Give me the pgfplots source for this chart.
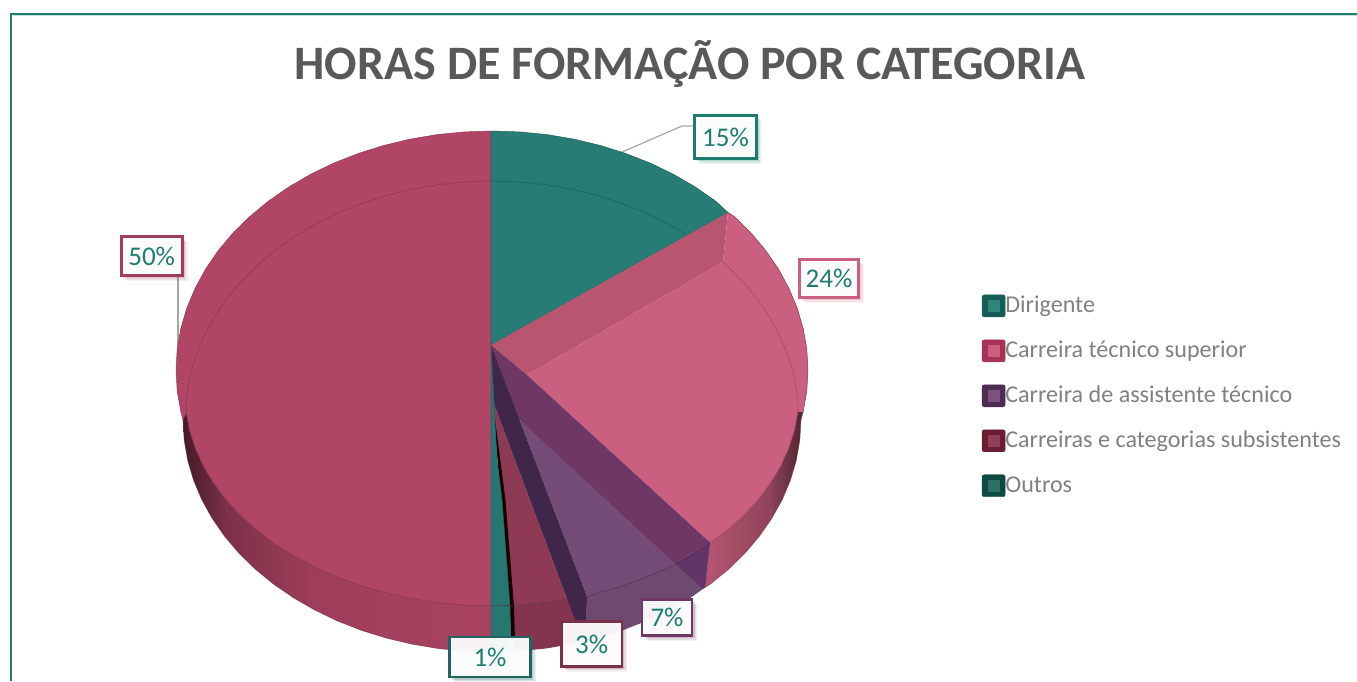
\documentclass[border=0pt]{standalone}
\usepackage{fontspec}
\setmainfont{Carlito}
\usepackage{pgfplots}
\pgfplotsset{compat=1.18}
\usetikzlibrary{shadows}
\definecolor{teal1}{HTML}{277D75}
\definecolor{red1}{HTML}{B04565}
\definecolor{pink1}{HTML}{CB5F7F}
\definecolor{pinkw}{HTML}{B85570}
\definecolor{purp1}{HTML}{754B78}
\definecolor{purpw}{HTML}{6F3766}
\definecolor{purps}{HTML}{6E4A70}
\definecolor{purpd}{HTML}{633468}
\definecolor{strip}{HTML}{40264A}
\definecolor{burg1}{HTML}{8F3A55}
\definecolor{burgs}{HTML}{85344F}
\definecolor{labeltxt}{HTML}{1C7D72}
\definecolor{frame1}{HTML}{1F7A6F}
\definecolor{s1a}{HTML}{155E57}\definecolor{s1b}{HTML}{2F8577}
\definecolor{s2a}{HTML}{A83257}\definecolor{s2b}{HTML}{CC5F80}
\definecolor{s3a}{HTML}{4F2D52}\definecolor{s3b}{HTML}{7B527E}
\definecolor{s4a}{HTML}{6B1D33}\definecolor{s4b}{HTML}{8F3F57}
\definecolor{s5a}{HTML}{0D4A44}\definecolor{s5b}{HTML}{2E6F63}
\pgfplotsset{poly/.style={forget plot, line join=round, line width=0.5pt}}
\tikzset{
  lab/.style={draw=#1, line width=2.8pt, fill=white, fill opacity=0.94, text opacity=1,
    text=labeltxt, inner sep=0pt, font=\fontsize{27}{30}\selectfont,
    drop shadow={shadow xshift=5.5pt, shadow yshift=-5.5pt, opacity=0.08, fill=#1},
    drop shadow={shadow xshift=4pt, shadow yshift=-4pt, opacity=0.12, fill=#1},
    drop shadow={shadow xshift=2.5pt, shadow yshift=-2.5pt, opacity=0.18, fill=#1}},
}
\newcommand{\swatch}[2]{\addlegendimage{legend image code/.code={
  \fill[#1,rounded corners=2pt] (0pt,-9.5pt) rectangle (23pt,12.5pt);
  \fill[#2] (6pt,-4pt) rectangle (17pt,7pt);}}}
\begin{document}
\begin{tikzpicture}
\begin{axis}[
  scale only axis, width=1357pt, height=681pt,
  xmin=0, xmax=1357, ymin=0, ymax=681, y dir=reverse,
  axis line style={draw=none}, ticks=none, clip=true,
  legend style={at={(axis description cs:0.7236,0.4178)}, anchor=west, draw=none, fill=none,
    inner sep=0pt, outer sep=0pt, row sep=21.25pt, column sep=0pt,
    nodes={inner sep=0pt, text height=16pt, text depth=6pt, anchor=west},
    font=\fontsize{24.1}{28}\selectfont, text=black!50},
  legend cell align=left,
]
% frame
\addplot[forget plot, draw=frame1, line width=2pt] coordinates {(11.3,681) (11.3,14) (1357,14)};
\addplot[forget plot, draw=frame1!25, line width=0.8pt] coordinates {(12.8,15.6) (1357,15.6)};
% leader lines
\addplot[forget plot, draw=black!35, line width=1.2pt] coordinates {(694,126) (682,126) (621.5,152.3)};
\addplot[forget plot, draw=black!35, line width=1.2pt] coordinates {(178,276) (178,346)};

% ---- sides, red
\addplot[poly, draw=none, left color=black!62!red1, right color=black!30!red1] coordinates {
 (183,420) (184.2,440.2) (187.7,460.3) (193.5,480) (201.6,499.3) (212,518) (224.4,536)
 (226.1,499.8) (213.8,483.3) (203.5,466.2) (195.5,448.5) (189.7,430.4) (186.2,412)} --cycle;
\addplot[poly, draw=none, left color=black!30!red1, right color=black!10!red1] coordinates {
 (224,535.5) (238.9,553.1) (255.3,569.1) (273.5,584) (293.4,597.7) (314.8,610)
 (315.9,567.6) (294.7,556.3) (274.9,543.8) (256.8,530.1) (240.5,515.4) (225.6,499)} --cycle;
\addplot[poly, draw=none, left color=black!10!red1, right color=black!4!red1] coordinates {
 (314.3,609.7) (337.5,620.9) (361.4,630.3) (386.3,638) (412,644.1) (438.3,648.5) (465.1,651.1) (492,652)
 (492,606) (465.2,605.2) (438.7,602.8) (412.5,598.8) (387,593.2) (362.3,586.1) (338.5,577.5) (315.4,567.3)} --cycle;
% ---- sides, pink
\addplot[poly, draw=none, left color=pink1!90!black, right color=pink1!70!black] coordinates {
 (710,542.5) (727.2,530.1) (743.5,515.4) (757.9,499.8) (770.2,483.3)
 (772,518) (759.6,536) (745.1,553.1) (728.7,569.1) (710.5,584) (705,587.5)} --cycle;
\addplot[poly, draw=none, left color=pink1!70!black, right color=pink1!38!black] coordinates {
 (770,483.6) (780.5,466.2) (788.5,448.5) (794.3,430.4) (797.8,412) (803.2,411.5)
 (801,420) (799.8,440.2) (796.3,460.3) (790.5,480) (782.4,499.3) (771.7,518.4)} --cycle;
% ---- sides, purple
\addplot[poly, draw=none, fill=purps] coordinates {
 (587,596.5) (597,593.2) (621.7,586.1) (645.5,577.5) (668.1,567.6) (689.3,556.3) (710,542.5)
 (705,587.5) (690.6,597.7) (669.2,610) (646.5,620.9) (622.6,630.3) (597.7,638) (585,641)} --cycle;
% ---- sides, burgundy
\addplot[poly, draw=none, fill=burgs] coordinates {
 (513,606) (518.8,605.2) (545.3,602.8) (571.5,598.8) (587,596.5)
 (585,641) (572,644.1) (545.7,648.5) (518.9,651.1) (513,651.5)} --cycle;

% ---- red face
\addplot[poly, draw=red1!85!black, fill=red1] coordinates {
 (491,345) (491,131) (464.4,131.9) (437.1,134.6) (410.2,139.1) (383.9,145.4) (358.5,153.4) (334,163)
 (310.7,174.2) (288.9,186.9) (268.6,201) (249.9,216.4) (233.1,232.9) (218.3,250.5) (205.6,269)
 (195.1,288.3) (186.8,308.1) (180.8,328.5) (177.2,349.2) (176,370) (177.2,390.8) (180.8,411.5) (183,420)
 (186.2,412) (189.7,430.4) (195.5,448.5) (203.5,466.2) (213.8,483.3) (226.1,499.8) (240.5,515.4)
 (256.8,530.1) (274.9,543.8) (294.7,556.3) (315.9,567.6) (338.5,577.5) (362.3,586.1) (387,593.2)
 (412.5,598.8) (438.7,602.8) (465.2,605.2) (491,606)} --cycle;
% ---- teal face
\addplot[poly, draw=teal1!75!black, fill=teal1] coordinates {
 (491,345) (491,131) (519.6,131.9) (546.9,134.6) (573.8,139.1) (600.1,145.4) (625.5,153.4) (650,163)
 (673.3,174.2) (695.1,186.9) (715.4,201) (728,212.5)} --cycle;
% ---- pink wall and face
\addplot[poly, draw=none, fill=pinkw] coordinates {
 (491,345) (728,212.5) (723,262) (527,375)} --cycle;
\addplot[poly, draw=none, fill=pink1] coordinates {
 (527,375) (723,262) (728,212.5) (734.1,216.4) (750.9,232.9) (765.7,250.5) (778.4,269) (788.9,288.3)
 (797.2,308.1) (803.2,328.5) (806.8,349.2) (808,370) (806.8,390.8) (803.2,411.5) (797.8,412)
 (794.3,430.4) (788.5,448.5) (780.5,466.2) (770.2,483.3) (757.9,499.8) (743.5,515.4) (727.2,530.1) (710,542.5)} --cycle;
\addplot[poly, draw=red1!75!black] coordinates {
 (728,212.5) (734.1,216.4) (750.9,232.9) (765.7,250.5) (778.4,269) (788.9,288.3)
 (797.2,308.1) (803.2,328.5) (806.8,349.2) (808,370) (806.8,390.8) (803.2,411.5)};
% ---- purple face and wall
\addplot[poly, draw=none, fill=purp1] coordinates {
 (491,345) (587,596.5) (597,593.2) (621.7,586.1) (645.5,577.5) (668.1,567.6) (675,563.5)} --cycle;
\addplot[poly, draw=none, fill=purpd] coordinates {
 (675,563.5) (710,542.5) (705,587.5) (703,588.5)} --cycle;
\addplot[poly, draw=none, fill=purpw] coordinates {
 (491,345) (527,375) (710,542.5) (675,563.5) (519,419)} --cycle;
% ---- burgundy face, dark strip, black wedge, teal 1%
\addplot[poly, draw=none, fill=burg1] coordinates {
 (492.5,400) (575,620) (571.5,598.8) (545.3,602.8) (518.8,605.2) (513,606)} --cycle;
\addplot[poly, draw=none, fill=strip] coordinates {
 (491,345) (587,596.5) (585,641) (575,620) (492.5,400)} --cycle;
\addplot[poly, draw=none, fill=black!90!red] coordinates {
 (492.5,400) (505.5,500) (514,606) (515,640) (511,640) (509.6,606)} --cycle;
\addplot[poly, draw=teal1!80!black, fill=teal1!95!black] coordinates {
 (491,345) (497,460) (502,500) (510,606) (511,652) (491,652)} --cycle;

% ---- thin inner rims
\addplot[forget plot, draw=red1!82!black, line width=0.6pt] coordinates {
 (491,181) (465.2,181.9) (438.7,184.6) (412.5,189.1) (387,195.3) (362.3,203.3) (338.5,212.8) (315.9,224)
 (294.7,236.6) (274.9,250.6) (256.8,265.8) (240.5,282.3) (226.1,299.7) (213.8,318.1) (203.5,337.3)
 (195.5,357) (189.7,377.3) (186.2,397.8) (186.2,412) (189.7,430.4) (195.5,448.5) (203.5,466.2) (213.8,483.3)
 (226.1,499.8) (240.5,515.4) (256.8,530.1) (274.9,543.8) (294.7,556.3) (315.9,567.6) (338.5,577.5)
 (362.3,586.1) (387,593.2) (412.5,598.8) (438.7,602.8) (465.2,605.2) (491,606)};
\addplot[forget plot, draw=teal1!78!black, line width=0.6pt] coordinates {
 (491,181) (518.8,181.9) (545.3,184.6) (571.5,189.1) (597,195.3) (621.7,203.3) (645.5,212.8) (668.1,224) (687,235)};
\addplot[forget plot, draw=pinkw!90!black, line width=0.6pt] coordinates {
 (723,262) (727.2,265.8) (743.5,282.3) (757.9,299.7) (770.2,318.1) (780.5,337.3) (788.5,357) (794.3,377.3) (797.8,397.8)
 (797.8,412) (794.3,430.4) (788.5,448.5) (780.5,466.2) (770.2,483.3) (757.9,499.8) (743.5,515.4) (727.2,530.1) (710,542.5)};
\addplot[forget plot, draw=black!30!purpw, opacity=0.8, line width=0.6pt] coordinates {
 (710,542.5) (689.3,556.3) (668.1,567.6) (645.5,577.5) (621.7,586.1) (597,593.2) (587,596.5) (571.5,598.8) (545.3,602.8) (518.8,605.2) (491,606)};
\addplot[forget plot, draw=black!40!red1, opacity=0.7, line width=0.6pt] coordinates {
 (492,652) (465.1,651.1) (438.3,648.5) (412,644.1) (386.3,638) (361.4,630.3) (337.5,620.9) (314.8,610) (293.4,597.7)
 (273.5,584) (255.3,569.1) (238.9,553.1) (224.4,536) (212,518) (201.6,499.3) (193.5,480) (187.7,460.3) (184.2,440.2) (183,420)};
\addplot[forget plot, draw=black!40!pink1, opacity=0.7, line width=0.6pt] coordinates {
 (705,587.5) (710.5,584) (728.7,569.1) (745.1,553.1) (759.6,536) (772,518) (782.4,499.3) (790.5,480) (796.3,460.3) (799.8,440.2) (801,420) (803.2,411.5)};

% ---- title
\node[font=\fontsize{48}{52}\bfseries\selectfont, text=black!65, anchor=center] at (axis cs:690,64) {HORAS DE FORMAÇÃO POR CATEGORIA};

% ---- data labels
\node[lab=frame1, minimum width=61.5pt, minimum height=43.5pt] at (axis cs:725.5,137) {15\%};
\node[lab=pink1, minimum width=59.5pt, minimum height=38.5pt] at (axis cs:829,278.5) {24\%};
\node[lab=purpw, minimum width=50pt, minimum height=36pt] at (axis cs:667,617.5) {7\%};
\node[lab=burg1!85!black, minimum width=60.5pt, minimum height=44.5pt] at (axis cs:591.7,644) {3\%};
\node[lab=teal1!80!black, minimum width=81pt, minimum height=40pt] at (axis cs:490,657) {1\%};
\node[lab=red1!90!black, minimum width=61pt, minimum height=39pt] at (axis cs:151.7,256) {50\%};

% ---- legend
\swatch{s1a}{s1b}\addlegendentry{Dirigente}
\swatch{s2a}{s2b}\addlegendentry{Carreira técnico superior}
\swatch{s3a}{s3b}\addlegendentry{Carreira de assistente técnico}
\swatch{s4a}{s4b}\addlegendentry{Carreiras e categorias subsistentes}
\swatch{s5a}{s5b}\addlegendentry{Outros}
\end{axis}
\end{tikzpicture}
\end{document}
